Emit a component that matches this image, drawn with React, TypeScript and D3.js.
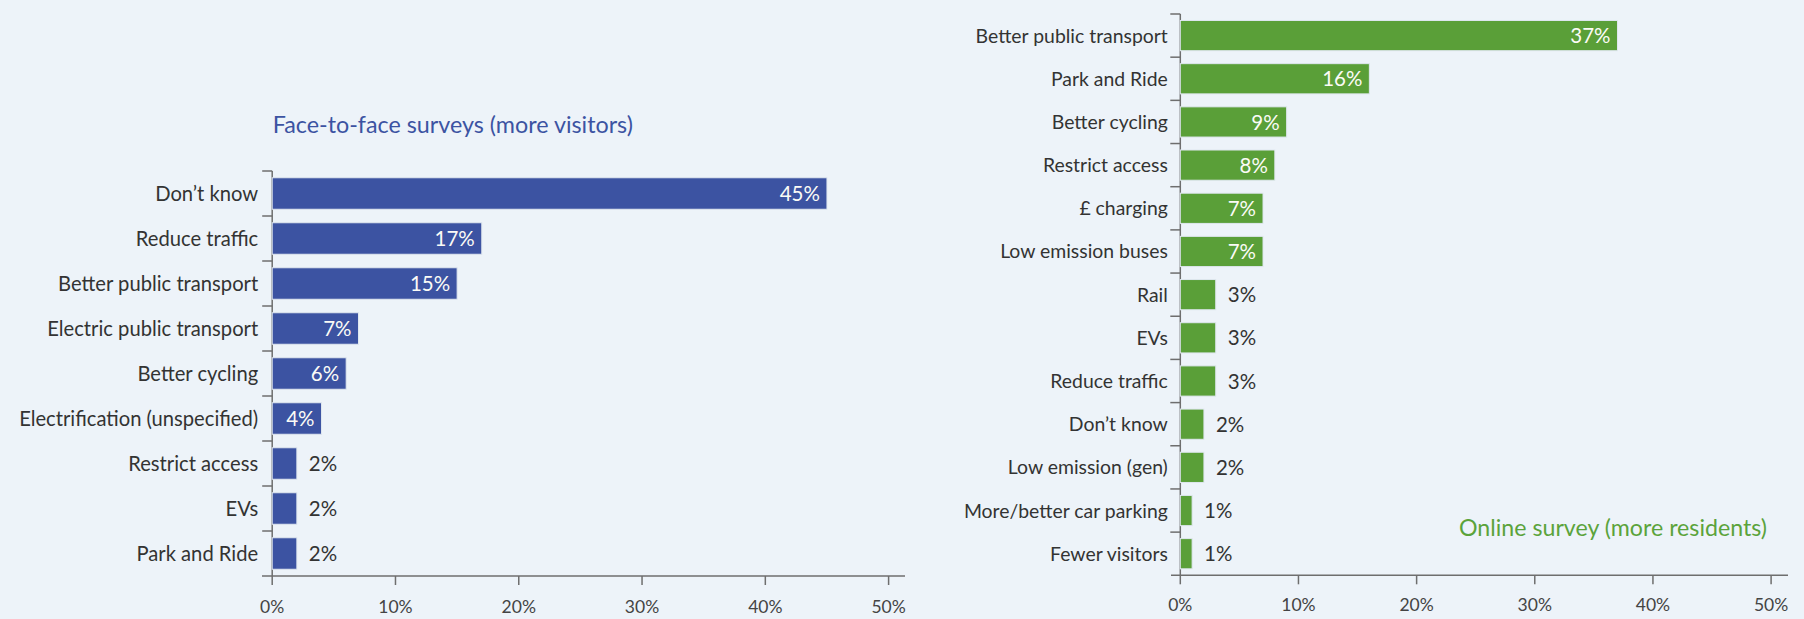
import React from "react";
import * as d3 from "d3";

const W = 1804;
const H = 619;

// Left chart data: Face-to-face surveys
const leftCategories = [
  "Don\u2019t know",
  "Reduce traffic",
  "Better public transport",
  "Electric public transport",
  "Better cycling",
  "Electrification (unspecified)",
  "Restrict access",
  "EVs",
  "Park and Ride",
];
const leftValues = [45, 17, 15, 7, 6, 4, 2, 2, 2];

// Right chart data: Online survey
const rightCategories = [
  "Better public transport",
  "Park and Ride",
  "Better cycling",
  "Restrict access",
  "\u00a3 charging",
  "Low emission buses",
  "Rail",
  "EVs",
  "Reduce traffic",
  "Don\u2019t know",
  "Low emission (gen)",
  "More/better car parking",
  "Fewer visitors",
];
const rightValues = [37, 16, 9, 8, 7, 7, 3, 3, 3, 2, 2, 1, 1];

const xTicks = [0, 10, 20, 30, 40, 50];
const leftTitle = "Face-to-face surveys (more visitors)";
const rightTitle = "Online survey (more residents)";

const BG = "#edf3f9";
const BLUE = "#3c53a2";
const GREEN = "#5a9f38";
const AXIS = "#6e6e6e";
const TEXT = "#333333";
const FONT = "Lato, 'Noto Sans', sans-serif";

type PanelProps = {
  categories: string[];
  values: number[];
  x0: number;
  x50: number;
  yTop: number;
  yBottom: number;
  axisLeft: number;
  axisRight: number;
  color: string;
  tickLabelY: number;
  labelSize: number;
  labelGap: number;
};

function Panel(p: PanelProps) {
  const x = d3.scaleLinear().domain([0, 50]).range([p.x0, p.x50]);
  const y = d3
    .scaleBand<string>()
    .domain(p.categories)
    .range([p.yTop, p.yBottom])
    .paddingInner(0.3)
    .paddingOuter(0.15);
  const step = y.step();
  const boundaries = d3.range(p.categories.length).map((i) => p.yTop + i * step);
  return (
    <g>
      <line x1={p.x0} x2={p.x0} y1={p.yTop} y2={p.yBottom} stroke={AXIS} strokeWidth={1.5} />
      {boundaries.map((b, i) => (
        <line key={"yt" + i} x1={p.x0 - 10} x2={p.x0} y1={b} y2={b} stroke={AXIS} strokeWidth={1.5} />
      ))}
      {p.categories.map((c, i) => {
        const v = p.values[i];
        const by = y(c)!;
        const bh = y.bandwidth();
        const inside = v >= 4;
        return (
          <g key={c}>
            <rect
              x={x(0)}
              y={by}
              width={x(v) - x(0)}
              height={bh}
              fill={p.color}
              stroke="#dfe7ef"
              strokeWidth={1}
            />
            <text
              x={p.x0 - p.labelGap}
              y={by + bh / 2}
              dy="0.36em"
              textAnchor="end"
              fontSize={p.labelSize}
              fill={TEXT}
              fontFamily={FONT}
            >
              {c}
            </text>
            <text
              x={inside ? x(v) - 7 : x(v) + 12}
              y={by + bh / 2}
              dy="0.37em"
              textAnchor={inside ? "end" : "start"}
              fontSize={20.5}
              fill={inside ? "#fbfbf6" : TEXT}
              fontFamily={FONT}
            >
              {v}%
            </text>
          </g>
        );
      })}
      <line x1={p.axisLeft} x2={p.axisRight} y1={p.yBottom} y2={p.yBottom} stroke={AXIS} strokeWidth={1.5} />
      {xTicks.map((t) => (
        <g key={"xt" + t}>
          <line x1={x(t)} x2={x(t)} y1={p.yBottom} y2={p.yBottom + 9} stroke={AXIS} strokeWidth={1.5} />
          <text
            x={x(t)}
            y={p.tickLabelY}
            dy="0.36em"
            textAnchor="middle"
            fontSize={17.5}
            fill="#444"
            fontFamily={FONT}
          >
            {t}%
          </text>
        </g>
      ))}
    </g>
  );
}

export default function App() {
  return (
    <svg
      width={W}
      height={H}
      style={{ position: "absolute", left: 0, top: 0, display: "block" }}
    >
      <rect x={0} y={0} width={W} height={H} fill={BG} />
      <text x={272.7} y={132.5} fontSize={23.3} fill={BLUE} fontFamily={FONT}>
        {leftTitle}
      </text>
      <Panel
        categories={leftCategories}
        values={leftValues}
        x0={272.2}
        x50={888.6}
        yTop={171}
        yBottom={576}
        axisLeft={262}
        axisRight={905}
        color={BLUE}
        tickLabelY={606.5}
        labelSize={20.2}
        labelGap={14}
      />
      <Panel
        categories={rightCategories}
        values={rightValues}
        x0={1180.3}
        x50={1771.1}
        yTop={14}
        yBottom={575.3}
        axisLeft={1171}
        axisRight={1788}
        color={GREEN}
        tickLabelY={605}
        labelSize={19.4}
        labelGap={12.5}
      />
      <text x={1767} y={535.5} textAnchor="end" fontSize={23.2} fill="#5ba33b" fontFamily={FONT}>
        {rightTitle}
      </text>
    </svg>
  );
}
